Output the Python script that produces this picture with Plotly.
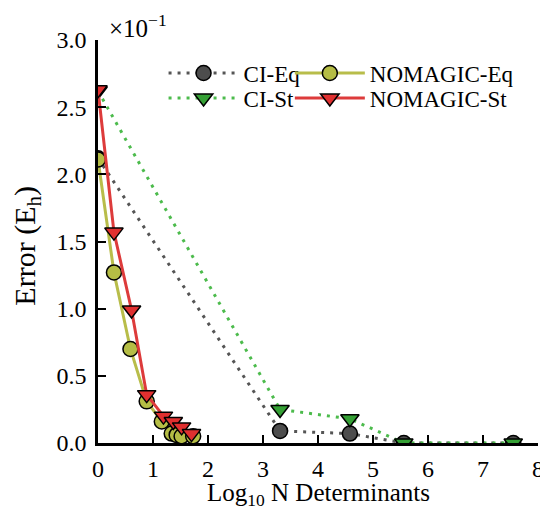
import plotly.graph_objects as go

# Data (x = log10 N determinants, y = error in units of 1e-1 Eh)
ci_eq_x = [0.0, 3.31, 4.58, 5.56, 7.55]
ci_eq_y = [2.12, 0.09, 0.07, 0.0, 0.0]

ci_st_x = [0.0, 3.31, 4.58, 5.56, 7.55]
ci_st_y = [2.62, 0.25, 0.18, 0.0, 0.0]

nm_eq_x = [0.0, 0.29, 0.59, 0.885, 1.16, 1.34, 1.43, 1.52, 1.73]
nm_eq_y = [2.11, 1.27, 0.70, 0.31, 0.16, 0.07, 0.06, 0.05, 0.05]

nm_st_x = [0.0, 0.29, 0.61, 0.885, 1.19, 1.37, 1.52, 1.70]
nm_st_y = [2.63, 1.57, 0.99, 0.36, 0.20, 0.16, 0.12, 0.07]

x_ticks = [0, 1, 2, 3, 4, 5, 6, 7, 8]
y_ticks = [0.0, 0.5, 1.0, 1.5, 2.0, 2.5, 3.0]
y_tick_labels = ["0.0", "0.5", "1.0", "1.5", "2.0", "2.5", "3.0"]

FONT = "Liberation Serif"
LEG_FONT = dict(family=FONT, size=23, color="black")

fig = go.Figure()
fig.add_trace(go.Scatter(
    x=ci_eq_x, y=ci_eq_y, name="CI-Eq", mode="lines+markers", legend="legend",
    line=dict(color="#555555", width=3, dash="3px,6px"),
    marker=dict(symbol="circle", size=15, color="#4d4d4d", line=dict(color="black", width=1.5)),
))
fig.add_trace(go.Scatter(
    x=ci_st_x, y=ci_st_y, name="CI-St", mode="lines+markers", legend="legend2",
    line=dict(color="#4cbb4c", width=3, dash="3px,6px"),
    marker=dict(symbol="triangle-down", size=16, color="#35a035", line=dict(color="black", width=1.5)),
))
fig.add_trace(go.Scatter(
    x=nm_eq_x, y=nm_eq_y, name="NOMAGIC-Eq", mode="lines+markers", legend="legend3",
    line=dict(color="#b8bd4a", width=3),
    marker=dict(symbol="circle", size=15, color="#b5bd45", line=dict(color="black", width=1.5)),
))
fig.add_trace(go.Scatter(
    x=nm_st_x, y=nm_st_y, name="NOMAGIC-St", mode="lines+markers", legend="legend4",
    line=dict(color="#dd3b3b", width=3),
    marker=dict(symbol="triangle-down", size=16, color="#e03030", line=dict(color="black", width=1.5)),
))

axis_common = dict(
    showgrid=False, zeroline=False, showline=True, linecolor="black", linewidth=2.5,
    ticks="inside", ticklen=8, tickwidth=1.5, tickcolor="black", automargin=False,
    tickfont=dict(family=FONT, size=24, color="black"),
)

def leg(x, y):
    return dict(x=x, y=y, xanchor="left", yanchor="middle", orientation="v",
                font=LEG_FONT, bgcolor="rgba(0,0,0,0)", itemwidth=70)

col1, col2 = 0.149, 0.436
row1, row2 = 0.918, 0.856

fig.update_layout(
    width=540, height=500,
    margin=dict(l=90, r=10, t=32, b=65),
    paper_bgcolor="white", plot_bgcolor="white",
    font=dict(family=FONT, color="black"),
    xaxis=dict(range=[0, 8], tickvals=x_ticks, ticklabelstandoff=2, **axis_common),
    yaxis=dict(range=[0, 3.0], tickvals=y_ticks, ticktext=y_tick_labels, ticklabelstandoff=4, **axis_common),
    legend=leg(col1, row1),
    legend2=leg(col1, row2),
    legend3=leg(col2, row1),
    legend4=leg(col2, row2),
    showlegend=True,
    annotations=[
        dict(text="×10<sup>−1</sup>", x=0.02, y=1.0, xref="paper", yref="paper",
             xanchor="left", yanchor="bottom", showarrow=False, yshift=-4,
             font=dict(family=FONT, size=25, color="black")),
        dict(text="Log<sub>10</sub> N Determinants", x=0.5, y=-0.127, xref="paper", yref="paper",
             xanchor="center", yanchor="middle", showarrow=False,
             font=dict(family=FONT, size=25, color="black")),
        dict(text="Error (E<sub>h</sub>)", x=-0.162, y=0.489, xref="paper", yref="paper",
             xanchor="center", yanchor="middle", showarrow=False, textangle=-90,
             font=dict(family=FONT, size=30, color="black")),
    ],
)

fig.write_html("out.html")
